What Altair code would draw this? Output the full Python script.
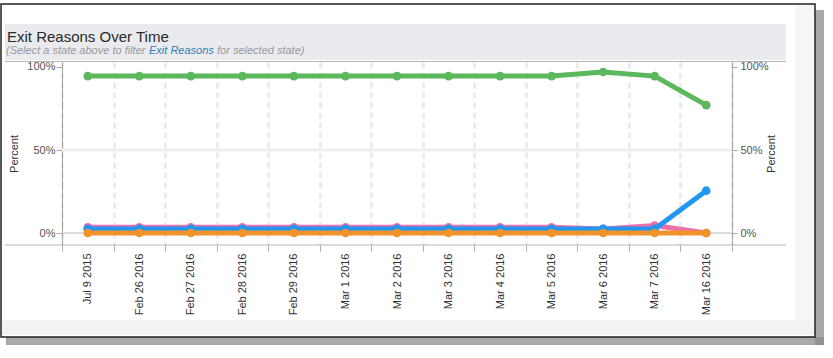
import altair as alt
import pandas as pd

# ---- data ----
dates = ["Jul 9 2015", "Feb 26 2016", "Feb 27 2016", "Feb 28 2016", "Feb 29 2016",
         "Mar 1 2016", "Mar 2 2016", "Mar 3 2016", "Mar 4 2016", "Mar 5 2016",
         "Mar 6 2016", "Mar 7 2016", "Mar 16 2016"]
pink_vals = [3.5, 3.5, 3.5, 3.5, 3.5, 3.5, 3.5, 3.5, 3.5, 3.5, 2.5, 4.5, 0.0]
blue_vals = [2.5, 2.5, 2.5, 2.5, 2.5, 2.5, 2.5, 2.5, 2.5, 2.5, 2.5, 2.5, 25.5]
green_vals = [94.5, 94.5, 94.5, 94.5, 94.5, 94.5, 94.5, 94.5, 94.5, 94.5, 97.0, 94.5, 77.0]
orange_vals = [0.0, 0.0, 0.0, 0.0, 0.0, 0.0, 0.0, 0.0, 0.0, 0.0, 0.0, 0.0, 0.0]
series = [("Reason 1", pink_vals, "#f06eaa"),
          ("Reason 2", blue_vals, "#2196f3"),
          ("Reason 3", green_vals, "#5cb85c"),
          ("Reason 4", orange_vals, "#f0932b")]
y_ticks = [0, 50, 100]

FONT = "Liberation Sans"
W, H = 670, 183
Y_DOMAIN = [-7.2, 103]

one = pd.DataFrame({"k": [0]})

x_enc = alt.X("date:N", sort=dates,
              scale=alt.Scale(type="band", paddingInner=0, paddingOuter=0),
              axis=alt.Axis(title=None, labelAngle=-90, tickBand="extent",
                            grid=True, gridDash=[6, 4], gridColor="#ececec", gridWidth=3,
                            domain=False, tickColor="#aaaaaa", tickSize=6,
                            labelFont=FONT, labelFontSize=11, labelColor="#333333",
                            labelPadding=2))
y_scale = alt.Scale(domain=Y_DOMAIN, nice=False, zero=False)

left_axis = alt.Axis(values=y_ticks, labelExpr="datum.value + '%'", title="Percent",
                     titleFont=FONT, titleFontSize=11, titleFontWeight="normal",
                     titleColor="#333333", titlePadding=7, grid=False,
                     domainColor="#aaaaaa", tickColor="#aaaaaa", tickSize=6,
                     labelPadding=1, labelFont=FONT, labelFontSize=11, labelColor="#555555")
right_axis = alt.Axis(orient="right", values=y_ticks, labelExpr="datum.value + '%'",
                      title="Percent", titleAngle=270,
                      titleFont=FONT, titleFontSize=11, titleFontWeight="normal",
                      titleColor="#333333", titlePadding=8, grid=False,
                      domainColor="#aaaaaa", tickColor="#aaaaaa", tickSize=5,
                      labelPadding=3, labelFont=FONT, labelFontSize=11, labelColor="#555555")


def box(x, x2, y, y2, **kw):
    return alt.Chart(one).mark_rect(**kw).encode(
        x=alt.value(x), x2=alt.value(x2), y=alt.value(y), y2=alt.value(y2))


def hline(y, x, x2, color, width):
    return alt.Chart(one).mark_rule(color=color, strokeWidth=width).encode(
        x=alt.value(x), x2=alt.value(x2), y=alt.value(y))


def label(txt, x, y, **kw):
    return alt.Chart(one).mark_text(align="left", baseline="alphabetic", font=FONT, **kw).encode(
        x=alt.value(x), y=alt.value(y), text=alt.value(txt))


# frame decorations (coordinates relative to plot origin at 62,62)
shadow_r = box(753, 762, -52, 283, color="#8c8c8c", opacity=0.75)
shadow_b = box(-56, 762, 275, 283, color="#8c8c8c", opacity=0.75)
paper = box(-61, 753, -58, 275, fillOpacity=0, stroke="#222222", strokeWidth=1.5)
strip_r = box(733, 752, -57, 273, color="#f6f6f6")
strip_b = box(-60, 752, 258, 273, color="#f3f3f3")
banner = box(-57, 724, -38, -2, color="#eaebef")
top_line = hline(-0.5, -57, 724, "#b5b5b5", 1)
bot_line = hline(183, -57, 724, "#b5b5b5", 1)

title = label("Exit Reasons Over Time", -55, -20, fontSize=15, color="#2a2a2a")
sub1 = label("(Select a state above to filter", -56, -8, fontSize=11, fontStyle="italic", color="#9a9a9a")
sub2 = label("Exit Reasons", 87, -8, fontSize=11, fontStyle="italic", color="#2f7fb8")
sub3 = label("for selected state)", 155, -8, fontSize=11, fontStyle="italic", color="#9a9a9a")

grid50 = alt.Chart(one).mark_rule(color="#eeeeee", strokeWidth=3).encode(
    x=alt.value(0), x2=alt.value(W), y=alt.Y(datum=50, scale=y_scale, axis=None))
zero = alt.Chart(one).mark_rule(color="#bbbbbb", strokeWidth=1).encode(
    x=alt.value(0), x2=alt.value(W), y=alt.Y(datum=0, scale=y_scale, axis=None))

line_layers = []
for i, (name, vals, col) in enumerate(series):
    df = pd.DataFrame({"date": dates, "value": vals, "series": name})
    if i == 0:
        ax = left_axis
    elif i == 1:
        ax = right_axis
    else:
        ax = None
    line_layers.append(
        alt.Chart(df).mark_line(color=col, strokeWidth=5,
                                point=alt.OverlayMarkDef(filled=True, size=75, color=col, opacity=1))
        .encode(x=x_enc, y=alt.Y("value:Q", scale=y_scale, axis=ax))
    )

chart = alt.layer(
    shadow_r, shadow_b, strip_r, strip_b, paper, banner, top_line, bot_line,
    title, sub1, sub2, sub3, grid50, zero, *line_layers
).resolve_axis(y="independent").properties(
    width=W, height=H,
    autosize=alt.AutoSizeParams(type="none"),
    padding={"left": 62, "top": 62, "right": 101, "bottom": 113},
    background="white",
).configure_view(stroke=None)

chart.save("out.html", embed_options={"renderer": "svg", "actions": False})
